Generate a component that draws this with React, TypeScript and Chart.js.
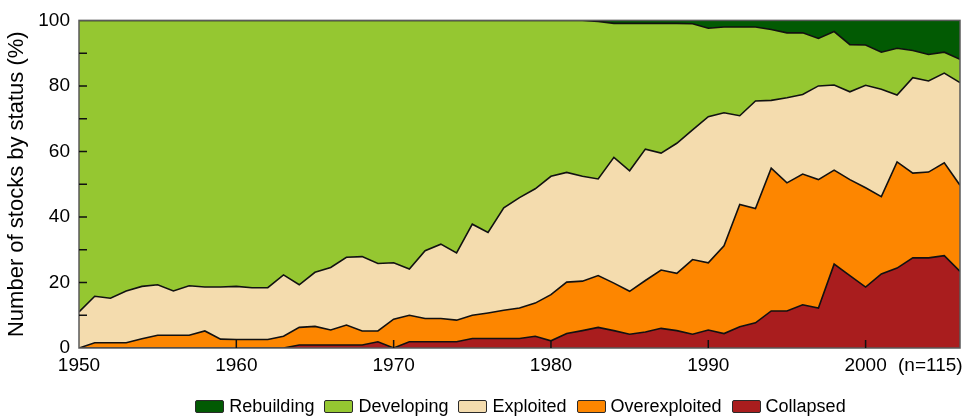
import React, { useEffect, useRef } from 'react';
import { Chart, registerables } from 'chart.js';

Chart.register(...registerables);

const years = [
  1950, 1951, 1952, 1953, 1954, 1955, 1956, 1957, 1958, 1959,
  1960, 1961, 1962, 1963, 1964, 1965, 1966, 1967, 1968, 1969,
  1970, 1971, 1972, 1973, 1974, 1975, 1976, 1977, 1978, 1979,
  1980, 1981, 1982, 1983, 1984, 1985, 1986, 1987, 1988, 1989,
  1990, 1991, 1992, 1993, 1994, 1995, 1996, 1997, 1998, 1999,
  2000, 2001, 2002, 2003, 2004, 2005, 2006,
];

const collapsed = [
  0, 0, 0, 0, 0, 0, 0, 0, 0, 0,
  0, 0, 0, 0, 0.9, 0.9, 0.9, 0.9, 0.9, 1.9,
  0, 1.9, 1.9, 1.9, 1.9, 2.9, 2.9, 2.9, 2.9, 3.6,
  2.2, 4.4, 5.3, 6.3, 5.3, 4.2, 4.9, 6.0, 5.3, 4.2,
  5.5, 4.4, 6.5, 7.7, 11.3, 11.3, 13.2, 12.2, 25.6, 22.1,
  18.6, 22.6, 24.4, 27.5, 27.5, 28.2, 23.4,
];

const overexploited = [
  0, 1.6, 1.6, 1.6, 2.8, 3.9, 3.9, 3.9, 5.2, 2.7,
  2.6, 2.6, 2.6, 3.6, 5.4, 5.7, 4.6, 6.1, 4.3, 3.3,
  8.8, 8.1, 7.1, 7.1, 6.6, 7.1, 7.8, 8.6, 9.3, 10.1,
  14.1, 15.7, 15.1, 15.8, 14.5, 13.1, 15.7, 17.8, 17.5, 22.8,
  20.5, 26.8, 37.3, 34.9, 43.6, 39.1, 39.9, 39.2, 28.7, 29.3,
  30.3, 23.6, 32.4, 25.9, 26.2, 28.3, 26.3,
];

const exploited = [
  11.0, 14.2, 13.6, 15.8, 16.0, 15.4, 13.5, 15.1, 13.4, 15.9,
  16.2, 15.8, 15.8, 18.7, 13.0, 16.5, 19.1, 20.7, 22.7, 20.6,
  17.2, 14.1, 20.7, 22.7, 20.5, 27.8, 24.6, 31.3, 33.7, 34.9,
  36.1, 33.5, 32.0, 29.5, 38.4, 36.8, 40.1, 35.7, 39.7, 39.6,
  44.6, 40.6, 27.1, 32.8, 20.7, 26.0, 24.3, 28.6, 26.0, 26.8,
  31.3, 32.8, 20.4, 29.1, 27.8, 27.4, 31.3,
];

const developing = [
  89.0, 84.2, 84.8, 82.6, 81.2, 80.7, 82.6, 81.0, 81.4, 81.4,
  81.2, 81.6, 81.6, 77.7, 80.7, 76.9, 75.4, 72.3, 72.1, 74.2,
  74.0, 75.9, 70.3, 68.3, 71.0, 62.2, 64.7, 57.2, 54.1, 51.4,
  47.6, 46.4, 47.6, 48.1, 40.9, 45.0, 38.4, 39.6, 36.6, 32.4,
  27.0, 26.2, 27.1, 22.6, 21.6, 19.8, 18.8, 14.5, 16.3, 14.4,
  12.3, 11.3, 14.3, 8.3, 8.1, 6.4, 7.1,
];

const rebuilding = [
  0, 0, 0, 0, 0, 0, 0, 0, 0, 0,
  0, 0, 0, 0, 0, 0, 0, 0, 0, 0,
  0, 0, 0, 0, 0, 0, 0, 0, 0, 0,
  0, 0, 0, 0.3, 0.9, 0.9, 0.9, 0.9, 0.9, 1.0,
  2.4, 2.0, 2.0, 2.0, 2.8, 3.8, 3.8, 5.5, 3.4, 7.4,
  7.5, 9.7, 8.5, 9.2, 10.4, 9.7, 11.9,
];

const xTickYears = [1950, 1960, 1970, 1980, 1990, 2000];
const yTickValues = [0, 20, 40, 60, 80, 100];
const yMinorValues = [10, 20, 30, 40, 50, 60, 70, 80, 90];
const yTitle = 'Number of stocks by status (%)';
const nLabel = '(n=115)';

const seriesNames = ['Collapsed', 'Overexploited', 'Exploited', 'Developing', 'Rebuilding'];
const seriesValues = [collapsed, overexploited, exploited, developing, rebuilding];
const seriesColors = ['#a91d1e', '#fd8600', '#f4dcae', '#95c731', '#025a03'];

const FONT = "'Liberation Sans', Arial, Helvetica, sans-serif";

const insideTicks = {
  id: 'insideTicks',
  afterDatasetsDraw(chart: any) {
    const { ctx, chartArea: a, scales } = chart;
    const x = scales.x;
    const y = scales.y;
    ctx.save();
    ctx.strokeStyle = '#5a5a5a';
    ctx.lineWidth = 1.5;
    ctx.strokeRect(a.left, a.top, a.right - a.left, a.bottom - a.top);
    ctx.strokeStyle = '#111';
    ctx.lineWidth = 1.5;
    ctx.beginPath();
    for (const v of yMinorValues) {
      const py = y.getPixelForValue(v);
      ctx.moveTo(a.left, py);
      ctx.lineTo(a.left + 8, py);
    }
    for (const v of xTickYears) {
      if (v === 1950) continue;
      const px = x.getPixelForValue(v);
      ctx.moveTo(px, a.bottom);
      ctx.lineTo(px, a.bottom - 8);
    }
    ctx.stroke();
    ctx.font = `19px ${FONT}`;
    ctx.fillStyle = '#000';
    ctx.textBaseline = 'middle';
    ctx.textAlign = 'left';
    ctx.fillText(nLabel, 898, x.top + 6 + (19 * 1.2) / 2);
    ctx.restore();
  },
};

export default function App() {
  const canvasRef = useRef<HTMLCanvasElement | null>(null);

  useEffect(() => {
    const canvas = canvasRef.current;
    if (!canvas) return;
    const datasets = seriesNames.map((name, i) => ({
      label: name,
      data: seriesValues[i].map((v, j) => ({ x: years[j], y: v })),
      backgroundColor: seriesColors[i],
      borderColor: '#111',
      borderWidth: name === 'Rebuilding' ? 0 : 1.6,
      fill: i === 0 ? 'origin' : '-1',
      pointRadius: 0,
      tension: 0,
    }));
    const chart = new Chart(canvas, {
      type: 'line',
      data: { datasets },
      options: {
        animation: false,
        responsive: false,
        devicePixelRatio: 1,
        layout: { padding: { left: 0, right: 17, top: 17, bottom: 38 } },
        plugins: {
          legend: { display: false },
          tooltip: { enabled: false },
        },
        scales: {
          x: {
            type: 'linear',
            min: 1950,
            max: 2006,
            afterBuildTicks: (s: any) => {
              s.ticks = xTickYears.map((v) => ({ value: v }));
            },
            afterFit: (s: any) => {
              s.height = 30;
            },
            grid: { display: false, drawTicks: false },
            border: { display: false },
            ticks: {
              padding: 6,
              color: '#000',
              font: { size: 19, family: FONT },
              maxRotation: 0,
              autoSkip: false,
              callback: (v: any) => String(v),
            },
          },
          y: {
            stacked: true,
            min: 0,
            max: 100,
            afterBuildTicks: (s: any) => {
              s.ticks = yTickValues.map((v) => ({ value: v }));
            },
            afterFit: (s: any) => {
              s.width = 79;
            },
            grid: { display: false, drawTicks: false },
            border: { display: false },
            ticks: {
              padding: 9,
              color: '#000',
              font: { size: 19, family: FONT },
              callback: (v: any) => String(v),
            },
            title: {
              display: true,
              text: yTitle,
              color: '#000',
              font: { size: 22, family: FONT },
              padding: { top: 4, bottom: 0 },
            },
          },
        },
      },
      plugins: [insideTicks],
    } as any);
    return () => chart.destroy();
  }, []);

  const legendOrder = [4, 3, 2, 1, 0];

  return (
    <div style={{ position: 'fixed', left: 0, top: 0, width: 977, height: 416, background: '#fff' }}>
      <canvas ref={canvasRef} width={977} height={416} style={{ display: 'block' }} />
      <div
        style={{
          position: 'absolute',
          left: 79,
          width: 883,
          top: 396,
          height: 21,
          display: 'flex',
          justifyContent: 'center',
          alignItems: 'center',
          gap: 10,
          fontFamily: FONT,
          fontSize: 18,
          color: '#000',
          lineHeight: '21px',
        }}
      >
        {legendOrder.map((i) => (
          <div key={seriesNames[i]} style={{ display: 'flex', alignItems: 'center' }}>
            <span
              style={{
                display: 'inline-block',
                width: 27,
                height: 11,
                background: seriesColors[i],
                border: '1.5px solid #2a2a2a',
                borderRadius: 2,
                marginRight: 5,
              }}
            />
            <span>{seriesNames[i]}</span>
          </div>
        ))}
      </div>
    </div>
  );
}
